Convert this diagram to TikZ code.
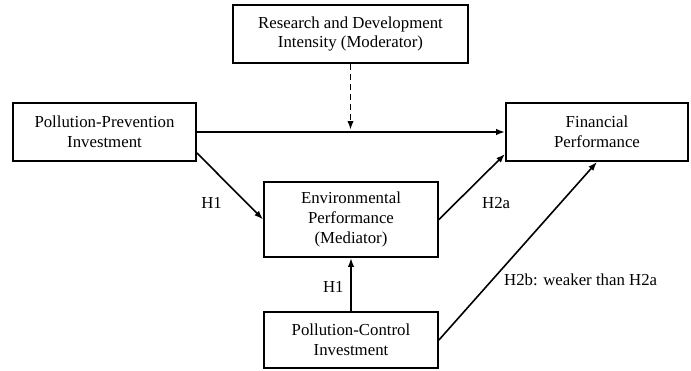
\documentclass[tikz,border=0pt]{standalone}
\usepackage{fontspec}
\setmainfont{Liberation Serif}
\usetikzlibrary{positioning, arrows.meta, calc}

\begin{document}
\begin{tikzpicture}[
  x=0.5pt, y=-0.5pt,
  every node/.style={font=\fontsize{8.4}{9.8}\selectfont},
  linkarrow/.style={-{Latex[length=4.5pt,width=3.2pt]}, line width=0.8pt},
  modarrow/.style={-{Latex[length=4.5pt,width=3.2pt]}, line width=0.9pt,
                   dash pattern=on 3pt off 2pt},
  varbox/.style={rectangle, draw=black, line width=0.9pt, fill=white,
                 align=center, inner sep=2pt}
]
\useasboundingbox (0,0) rectangle (691,370);

% -------- VARIÁVEIS --------
\node[varbox, minimum width=117.5pt, minimum height=29pt] (rdi) at (350.5,34)
  {Research and Development\\Intensity (Moderator)};
\node[varbox, minimum width=91.5pt, minimum height=29pt] (ppi) at (104.5,132)
  {Pollution-Prevention\\Investment};
\node[varbox, minimum width=91pt, minimum height=29pt] (fp) at (597,132)
  {Financial\\Performance};
\node[varbox, minimum width=87pt, minimum height=37.5pt] (env) at (351,219.5)
  {Environmental\\Performance\\(Mediator)};
\node[varbox, minimum width=87pt, minimum height=28pt] (pci) at (351,340)
  {Pollution-Control\\Investment};

\coordinate (modpt) at (350.5,130);

% Efeito direto e moderação
\draw[linkarrow] (ppi.east) -- (fp.west);
\draw[modarrow] (rdi.south) -- (modpt);

% Mediação
\draw[linkarrow] ($(ppi.south east)+(0,-9)$) -- node[pos=0.55, below left=0pt and 2pt]{H1} (env.west);
\draw[linkarrow] (env.east) -- node[pos=0.45, below right=0pt and 3pt]{H2a} ($(fp.south west)+(0,-8)$);
\draw[linkarrow] (pci.north) -- node[pos=0.45, left=0pt]{H1} (env.south);
\draw[linkarrow] (pci.east) -- node[pos=0.34, right=2pt]{H2b: weaker than H2a} (fp.south);

\end{tikzpicture}
\end{document}
